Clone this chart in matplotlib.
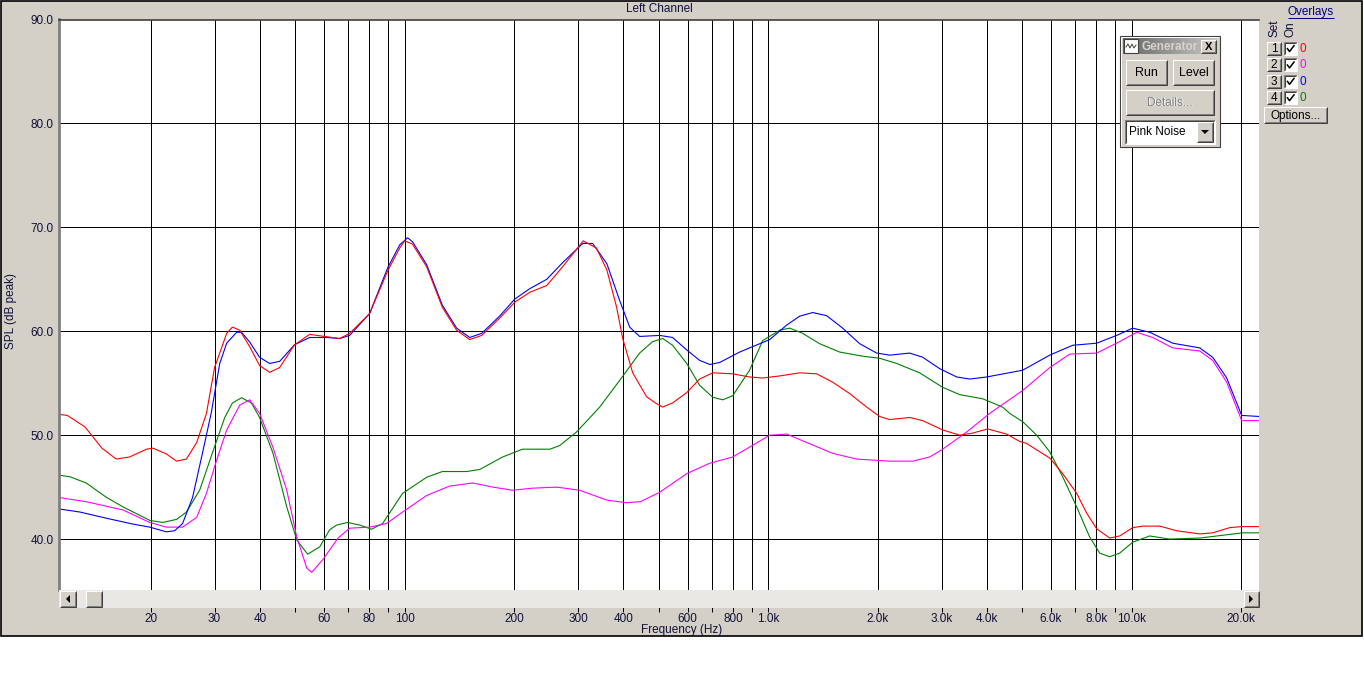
import numpy as np
import matplotlib.pyplot as plt
from matplotlib.patches import Rectangle, Polygon
from matplotlib.ticker import NullLocator

plt.rcParams['font.family'] = ['Liberation Sans', 'DejaVu Sans']

# ---- data (Hz, dB) ----
red_hz = [11.2, 11.8, 13.2, 14.7, 16.1, 17.5, 19.5, 20.3, 22.1, 23.6, 25.1, 26.8, 28.5, 30.0, 32.4,
          33.6, 35.2, 37.5, 39.9, 42.5, 45.3, 49.8, 54.8, 60.2, 66.3, 70.6, 80.1, 89.8, 96.9, 100,
          105, 115, 127, 139, 151, 163, 183, 201, 221, 246, 272, 310, 337, 360, 383, 398, 424, 463,
          490, 512, 546, 597, 648, 704, 799, 889, 966, 1076, 1221, 1360, 1505, 1676, 1867, 2026,
          2159, 2451, 2661, 3021, 3364, 3653, 4017, 4531, 4920, 5142, 5950, 6460, 7058, 7519, 8010,
          8700, 9268, 10064, 10722, 11940, 13300, 15385, 16705, 18605, 20070, 22400]
red_db = [52.0, 51.9, 50.8, 48.75, 47.7, 47.9, 48.65, 48.75, 48.2, 47.5, 47.7, 49.3, 52.1, 56.5, 59.8,
          60.4, 60.1, 58.5, 56.7, 56.05, 56.5, 58.7, 59.7, 59.5, 59.3, 59.8, 61.7, 65.8, 68.0, 68.7,
          68.4, 66.2, 62.3, 60.1, 59.2, 59.6, 61.3, 62.8, 63.75, 64.4, 66.2, 68.7, 68.0, 65.9, 62.3,
          59.3, 56.0, 53.7, 53.1, 52.7, 53.1, 54.1, 55.4, 56.0, 55.9, 55.6, 55.5, 55.7, 56.0, 55.9,
          55.1, 54.0, 52.7, 51.8, 51.5, 51.7, 51.4, 50.5, 50.0, 50.2, 50.6, 50.1, 49.4, 49.2, 47.8,
          46.3, 44.4, 42.5, 41.0, 40.1, 40.3, 41.1, 41.25, 41.25, 40.8, 40.5, 40.6, 41.1, 41.2, 41.2]

mag_hz = [11.2, 13.3, 16.8, 19.9, 22.1, 24.5, 26.8, 28.5, 30.4, 32.4, 35.2, 37.5, 39.9, 43.4, 47.4,
          50.5, 53.8, 55.5, 59.5, 65.6, 70.6, 80.1, 89.2, 98.7, 115, 133, 154, 175, 198, 225, 262,
          303, 360, 408, 445, 503, 597, 691, 799, 889, 1010, 1125, 1276, 1505, 1752, 2159, 2498,
          2782, 3021, 3517, 4069, 5013, 5950, 6751, 8010, 9094, 10322, 11424, 12968, 15385, 16705,
          18257, 20070, 22400]
mag_db = [44.0, 43.6, 42.8, 41.6, 41.15, 41.15, 42.1, 44.4, 47.6, 50.5, 52.9, 53.4, 52.1, 48.85, 44.7,
          40.2, 37.2, 36.8, 38.0, 40.1, 41.05, 41.15, 41.5, 42.6, 44.2, 45.1, 45.4, 45.0, 44.7, 44.9,
          45.0, 44.7, 43.75, 43.5, 43.6, 44.5, 46.3, 47.3, 47.9, 48.85, 50.0, 50.1, 49.3, 48.25,
          47.7, 47.5, 47.5, 47.9, 48.65, 50.3, 52.1, 54.3, 56.5, 57.8, 57.9, 58.85, 59.9, 59.4,
          58.4, 58.1, 57.2, 55.1, 51.4, 51.4]

blue_hz = [11.2, 12.8, 15.15, 17.85, 19.9, 22.1, 23.3, 24.5, 26.1, 27.8, 29.4, 31.0, 32.4, 34.5, 35.6,
           37.5, 39.9, 42.5, 45.3, 49.8, 54.8, 61.0, 66.3, 70.6, 80.1, 89.8, 96.9, 101.9, 105.2, 115,
           127, 139, 151, 163, 183, 201, 221, 246, 272, 309, 329, 360, 390, 416, 443, 503, 546, 597,
           648, 691, 736, 835, 948, 1010, 1125, 1221, 1326, 1448, 1603, 1786, 1989, 2159, 2451, 2661,
           2964, 3301, 3584, 3992, 5013, 5950, 6881, 8010, 9094, 10064, 11208, 12968, 15385, 16705,
           18257, 20070, 22400]
blue_db = [42.9, 42.6, 42.0, 41.45, 41.15, 40.7, 40.8, 41.5, 44.0, 48.3, 52.2, 56.9, 58.85, 59.9, 59.9,
           58.95, 57.5, 56.9, 57.1, 58.7, 59.4, 59.4, 59.3, 59.6, 61.7, 66.1, 68.3, 69.0, 68.6, 66.4,
           62.5, 60.3, 59.4, 59.8, 61.5, 63.1, 64.1, 65.0, 66.6, 68.45, 68.45, 66.5, 63.0, 60.4, 59.5,
           59.6, 59.4, 58.2, 57.2, 56.8, 57.0, 58.0, 58.8, 59.2, 60.6, 61.45, 61.8, 61.5, 60.3, 58.8,
           57.9, 57.7, 57.9, 57.5, 56.4, 55.6, 55.4, 55.6, 56.25, 57.7, 58.65, 58.85, 59.6, 60.3,
           59.9, 58.85, 58.4, 57.5, 55.5, 51.9, 51.8]

green_hz = [11.2, 12.0, 13.3, 15.15, 16.8, 19.9, 21.6, 23.6, 25.1, 27.3, 29.6, 32.0, 33.6, 35.6, 37.9,
            39.9, 43.4, 47.4, 50.5, 54.1, 58.4, 62.2, 65.0, 69.7, 75.2, 81.1, 87.0, 98.7, 115, 127,
            148, 161, 186, 211, 251, 267, 297, 344, 391, 443, 481, 513, 546, 597, 648, 704, 750, 799,
            889, 966, 1076, 1146, 1244, 1386, 1573, 1820, 2026, 2257, 2610, 3021, 3364, 3892, 4418,
            4618, 5013, 5479, 5950, 6460, 7058, 7664, 8166, 8700, 9268, 10064, 11208, 12724, 15385,
            20200, 22400]
green_db = [46.15, 46.0, 45.4, 44.0, 43.1, 41.8, 41.6, 41.9, 42.6, 44.7, 48.3, 51.7, 53.1, 53.6, 53.1,
            51.7, 48.3, 43.1, 39.9, 38.55, 39.25, 40.9, 41.35, 41.6, 41.35, 40.95, 41.5, 44.4, 45.95,
            46.5, 46.5, 46.7, 47.9, 48.65, 48.65, 49.0, 50.3, 52.7, 55.3, 57.9, 59.0, 59.3, 58.65,
            56.9, 54.8, 53.65, 53.4, 53.8, 56.25, 59.1, 60.1, 60.3, 59.8, 58.8, 58.0, 57.6, 57.4,
            56.9, 56.0, 54.6, 53.9, 53.5, 52.7, 52.1, 51.3, 50.0, 48.4, 46.0, 43.1, 40.2, 38.65,
            38.3, 38.65, 39.7, 40.3, 40.0, 40.1, 40.6, 40.6]

grid_hz = [20, 30, 40, 50, 60, 70, 80, 90, 100, 200, 300, 400, 500, 600, 700, 800, 900,
           1000, 2000, 3000, 4000, 5000, 6000, 7000, 8000, 9000, 10000, 20000]
grid_labels = ['20', '30', '40', '', '60', '', '80', '', '100', '200', '300', '400', '', '600', '',
               '800', '', '1.0k', '2.0k', '3.0k', '4.0k', '', '6.0k', '', '8.0k', '', '10.0k', '20.0k']
db_ticks = [40, 50, 60, 70, 80, 90]
overlay_colors = ['#FF0000', '#FF00FF', '#0000FF', '#008000']

W, H = 1364, 684
fig = plt.figure(figsize=(W / 100, H / 100), dpi=100)
fig.patch.set_facecolor('white')
txtcol = '#101038'
face = '#D4D0C8'


def fr(x0, y0, x1, y1):
    return [x0 / W, 1 - y1 / H, (x1 - x0) / W, (y1 - y0) / H]


# gray window background
bg = fig.add_axes([0, 0, 1, 1], zorder=-2)
bg.set_xlim(0, W)
bg.set_ylim(H, 0)
bg.axis('off')
bg.add_patch(Rectangle((0.5, 0.5), 1361, 635.5, fc=face, ec='black', lw=1.2))

# main plot
ax = fig.add_axes(fr(59, 19.5, 1259, 590), zorder=0)
ax.set_xscale('log')
ax.set_xlim(11.2, 22400)
ax.set_ylim(35.1, 90)
ax.set_xticks(grid_hz)
ax.set_xticklabels(grid_labels)
ax.xaxis.set_minor_locator(NullLocator())
ax.set_yticks(db_ticks)
ax.set_yticklabels(['%.1f' % v for v in db_ticks])
ax.grid(True, color='black', lw=0.72)
ax.tick_params(axis='x', length=15.5, width=0.72, pad=1.2, labelsize=8.5, labelcolor=txtcol)
ax.tick_params(axis='y', length=0, pad=4, labelsize=8.5, labelcolor=txtcol)
ax.spines['right'].set_visible(False)
ax.spines['bottom'].set_visible(False)
ax.spines['top'].set_color('#404040')
ax.spines['top'].set_linewidth(1.2)
ax.spines['left'].set_color('#808080')
ax.spines['left'].set_linewidth(2)

ax.plot(green_hz, green_db, color=overlay_colors[3], lw=0.8)
ax.plot(mag_hz, mag_db, color=overlay_colors[1], lw=0.8)
ax.plot(blue_hz, blue_db, color=overlay_colors[2], lw=0.8)
ax.plot(red_hz, red_db, color=overlay_colors[0], lw=0.8)

# overlay for widgets (pixel coords, y down)
ov = fig.add_axes([0, 0, 1, 1], zorder=5)
ov.axis('off')


def ln(xs, ys, c, lw=0.72):
    ov.plot(xs, ys, color=c, lw=lw, solid_capstyle='butt')


def btn(x0, y0, x1, y1, text=None, tcol='black', fs=8.5, bold=False):
    ov.add_patch(Rectangle((x0, y0), x1 - x0, y1 - y0, fc=face, ec='none'))
    ln([x0, x0, x1], [y1, y0, y0], 'white')
    ln([x0, x1, x1], [y1, y1, y0], '#404040')
    ln([x0 + 1, x1 - 1, x1 - 1], [y1 - 1, y1 - 1, y0 + 1], '#808080')
    if text:
        ov.text((x0 + x1) / 2, (y0 + y1) / 2 + 0.5, text, ha='center', va='center', fontsize=fs,
                color=tcol, fontweight='bold' if bold else 'normal')


def sunken(x0, y0, x1, y1, fc='white'):
    ov.add_patch(Rectangle((x0, y0), x1 - x0, y1 - y0, fc=fc, ec='none'))
    ln([x0, x0, x1], [y1, y0, y0], '#808080')
    ln([x0 + 1, x0 + 1, x1 - 1], [y1 - 1, y0 + 1, y0 + 1], '#404040')
    ln([x0, x1, x1], [y1, y1, y0], 'white')


# scrollbar
ov.add_patch(Rectangle((59, 590), 1200, 18, fc='#EAE8E4', ec='none'))
btn(60, 591, 76, 607)
ov.add_patch(Polygon([[70, 595], [70, 603], [66, 599]], closed=True, fc='black', ec='none'))
btn(86, 591, 102, 607)
btn(1244, 591, 1259, 607)
ov.add_patch(Polygon([[1249, 595], [1249, 603], [1253, 599]], closed=True, fc='black', ec='none'))

# titles
ov.text(659, 9.5, 'Left Channel', ha='center', va='center', fontsize=8.5, color=txtcol)
ov.text(682, 630, 'Frequency (Hz)', ha='center', va='center', fontsize=8.5, color=txtcol)
ov.text(11, 311, 'SPL (dB peak)', ha='center', va='center', rotation=90, fontsize=8.5, color=txtcol)

# generator window
ov.add_patch(Rectangle((1120, 36), 100, 111, fc=face, ec='#404040', lw=0.8))
ln([1121, 1121, 1219], [146, 37, 37], 'white')
grad = np.linspace(0, 1, 64).reshape(1, -1)
ov.imshow(grad, extent=(1123, 1217, 54, 38), cmap='gray', vmin=-1.1, vmax=1.6, aspect='auto', zorder=1)
ov.add_patch(Rectangle((1124, 39), 14, 14, fc='white', ec='#404040', lw=0.8, zorder=2))
ov.plot([1126, 1128, 1130, 1132, 1134, 1136], [47, 44, 48, 44, 48, 45], color='#404040', lw=0.7, zorder=3)
ov.text(1141, 46.5, 'Generator', ha='left', va='center', fontsize=8.5, fontweight='bold', color='#D8D4CC', zorder=3)
btn(1201, 40, 1216, 53, 'X', bold=True, fs=8)
btn(1126, 60, 1167, 85, 'Run', fs=9)
btn(1173, 60, 1214, 85, 'Level', fs=9)
btn(1126, 90, 1214, 115)
ov.text(1171, 103.5, 'Details...', ha='center', va='center', fontsize=8.5, color='white')
ov.text(1170, 102.5, 'Details...', ha='center', va='center', fontsize=8.5, color='#808080')
sunken(1125, 120, 1215, 144)
ov.text(1129, 132, 'Pink Noise', ha='left', va='center', fontsize=8.5, color='black')
btn(1197, 122, 1213, 142)
ov.add_patch(Polygon([[1201, 130], [1209, 130], [1205, 134]], closed=True, fc='black', ec='none'))

# overlays panel
ov.text(1311, 12.5, 'Overlays', ha='center', va='center', fontsize=8.5, color='#000080')
ln([1288, 1334], [18, 18], '#000080')
ov.text(1274, 28, 'Set', ha='center', va='center', rotation=90, fontsize=8.5, color=txtcol)
ov.text(1290.5, 29, 'On', ha='center', va='center', rotation=90, fontsize=8.5, color=txtcol)
for i, c in enumerate(overlay_colors):
    y0 = 42 + i * 16.4
    btn(1267, y0, 1281, y0 + 13, str(i + 1), fs=8.5)
    sunken(1284, y0, 1297, y0 + 13)
    ln([1287, 1289.5, 1294.5], [y0 + 6, y0 + 9.5, y0 + 3], 'black', lw=1.1)
    ov.text(1300, y0 + 7, '0', ha='left', va='center', fontsize=8.5, color=c)
btn(1264, 107, 1327, 123, 'Options...', fs=8.5)

ov.set_xlim(0, W)
ov.set_ylim(H, 0)

fig.savefig('out.png', dpi=100, facecolor=fig.get_facecolor())
